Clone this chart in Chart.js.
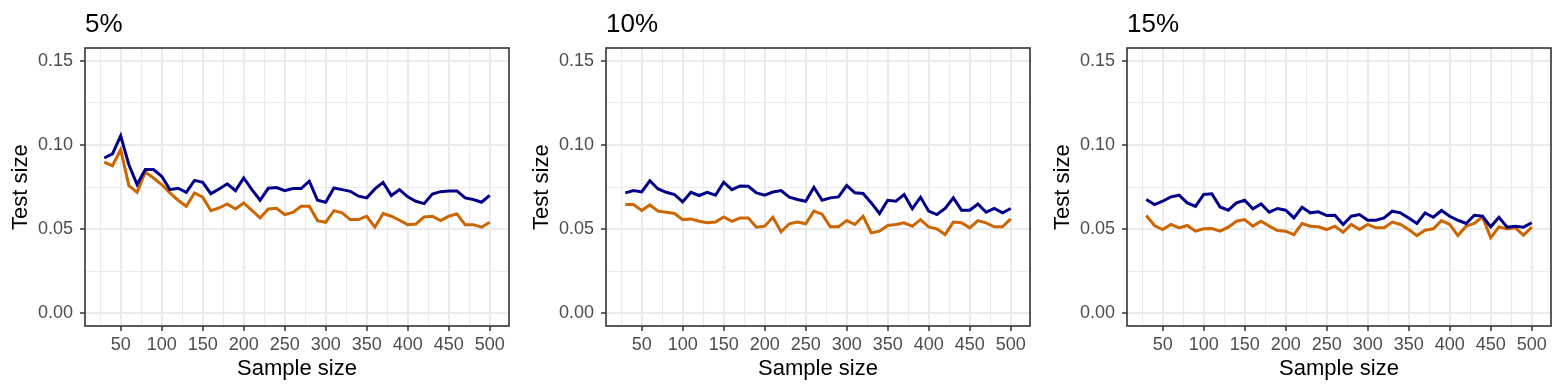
<!DOCTYPE html>
<html>
<head>
<meta charset="utf-8">
<script src="https://cdn.jsdelivr.net/npm/chart.js@4"></script>
<style>
html,body{margin:0;padding:0;background:#fff;}
#wrap{position:relative;width:1563px;height:392px;overflow:hidden;}
.panel{position:absolute;top:0;width:521px;height:392px;}
</style>
</head>
<body>
<div id="wrap">
  <div class="panel" style="left:0px"><canvas id="c0" width="521" height="392"></canvas></div>
  <div class="panel" style="left:521px"><canvas id="c1" width="521" height="392"></canvas></div>
  <div class="panel" style="left:1042px"><canvas id="c2" width="521" height="392"></canvas></div>
</div>
<script>
const sampleSizes = [30,40,50,60,70,80,90,100,110,120,130,140,150,160,170,180,190,200,210,220,230,240,250,260,270,280,290,300,310,320,330,340,350,360,370,380,390,400,410,420,430,440,450,460,470,480,490,500];
const xMajorTicks = [50,100,150,200,250,300,350,400,450,500];
const xMinorTicks = [25,75,125,175,225,275,325,375,425,475];
const yMajorTicks = [0,0.05,0.10,0.15];
const yMinorTicks = [0.025,0.075,0.125];
const panelTitles = ['5%','10%','15%'];

const blue5 = [0.0923,0.0947,0.1055,0.0883,0.0765,0.0854,0.0854,0.0814,0.0735,0.0743,0.0719,0.0790,0.0778,0.0711,0.0739,0.0770,0.0729,0.0804,0.0735,0.0672,0.0743,0.0747,0.0729,0.0741,0.0741,0.0785,0.0672,0.0660,0.0745,0.0735,0.0725,0.0696,0.0686,0.0739,0.0778,0.0700,0.0735,0.0692,0.0666,0.0652,0.0709,0.0723,0.0727,0.0727,0.0686,0.0676,0.0660,0.0701];
const orange5 = [0.0899,0.0877,0.0972,0.0759,0.0719,0.0840,0.0804,0.0765,0.0715,0.0672,0.0636,0.0715,0.0690,0.0610,0.0626,0.0650,0.0620,0.0656,0.0612,0.0567,0.0620,0.0624,0.0587,0.0600,0.0636,0.0636,0.0551,0.0541,0.0610,0.0597,0.0557,0.0557,0.0577,0.0512,0.0593,0.0577,0.0553,0.0527,0.0531,0.0573,0.0577,0.0551,0.0577,0.0591,0.0527,0.0527,0.0512,0.0541];
const blue10 = [0.0716,0.0729,0.0721,0.0788,0.0739,0.0719,0.0706,0.0662,0.0719,0.0700,0.0719,0.0702,0.0779,0.0735,0.0757,0.0755,0.0716,0.0702,0.0721,0.0729,0.0690,0.0676,0.0666,0.0749,0.0672,0.0686,0.0692,0.0759,0.0716,0.0712,0.0656,0.0593,0.0672,0.0666,0.0706,0.0621,0.0690,0.0607,0.0587,0.0623,0.0686,0.0613,0.0613,0.0650,0.0601,0.0623,0.0597,0.0623];
const orange10 = [0.0646,0.0646,0.0611,0.0644,0.0607,0.0601,0.0593,0.0557,0.0561,0.0547,0.0538,0.0542,0.0573,0.0547,0.0567,0.0567,0.0512,0.0518,0.0571,0.0484,0.0532,0.0542,0.0532,0.0607,0.0589,0.0514,0.0514,0.0551,0.0528,0.0577,0.0478,0.0488,0.0522,0.0528,0.0538,0.0518,0.0557,0.0514,0.0502,0.0468,0.0542,0.0538,0.0508,0.0551,0.0538,0.0514,0.0514,0.0561];
const blue15 = [0.0676,0.0646,0.0666,0.0692,0.0702,0.0656,0.0636,0.0706,0.0710,0.0632,0.0613,0.0656,0.0672,0.0621,0.0650,0.0601,0.0623,0.0613,0.0567,0.0630,0.0597,0.0603,0.0581,0.0583,0.0528,0.0577,0.0587,0.0553,0.0553,0.0567,0.0607,0.0597,0.0567,0.0534,0.0597,0.0571,0.0611,0.0577,0.0553,0.0534,0.0583,0.0577,0.0514,0.0571,0.0512,0.0518,0.0512,0.0538];
const orange15 = [0.0581,0.0522,0.0498,0.0528,0.0508,0.0522,0.0488,0.0502,0.0504,0.0488,0.0512,0.0547,0.0557,0.0518,0.0547,0.0518,0.0492,0.0488,0.0468,0.0534,0.0518,0.0514,0.0498,0.0518,0.0482,0.0528,0.0498,0.0528,0.0508,0.0508,0.0542,0.0528,0.0498,0.0462,0.0494,0.0502,0.0551,0.0528,0.0462,0.0518,0.0534,0.0573,0.0449,0.0514,0.0502,0.0508,0.0464,0.0512];

const panelSeries = [[blue5, orange5],[blue10, orange10],[blue15, orange15]];

const BLUE = '#00008B';
const ORANGE = '#CD6600';
const FONT = "'Liberation Sans', Arial, Helvetica, sans-serif";

function makeTicks(major, minor) {
  return major.map(v => ({value: v, isMajor: true}))
    .concat(minor.map(v => ({value: v, isMajor: false})))
    .sort((a, b) => a.value - b.value);
}
function isMajorCtx(ctx) { return ctx && ctx.tick && ctx.tick.isMajor; }

const borderPlugin = {
  id: 'panelBorder',
  afterDraw(chart) {
    const a = chart.chartArea, c = chart.ctx;
    c.save();
    c.strokeStyle = '#333333';
    c.lineWidth = 1.6;
    c.strokeRect(Math.round(a.left), Math.round(a.top), Math.round(a.right - a.left), Math.round(a.bottom - a.top));
    c.restore();
  }
};

function gridOpts() {
  return {
    color: '#EBEBEB',
    lineWidth: ctx => isMajorCtx(ctx) ? 2 : 1.1,
    tickColor: ctx => isMajorCtx(ctx) ? '#333333' : 'rgba(0,0,0,0)',
    tickLength: 5,
    tickWidth: 1.5,
    drawTicks: true
  };
}

panelTitles.forEach((title, i) => {
  const [b, o] = panelSeries[i];
  new Chart(document.getElementById('c' + i), {
    type: 'line',
    data: {
      datasets: [
        {data: sampleSizes.map((x, k) => ({x: x, y: b[k]})), borderColor: BLUE, borderWidth: 3, pointRadius: 0, tension: 0, fill: false},
        {data: sampleSizes.map((x, k) => ({x: x, y: o[k]})), borderColor: ORANGE, borderWidth: 3, pointRadius: 0, tension: 0, fill: false}
      ]
    },
    options: {
      responsive: false,
      animation: false,
      events: [],
      layout: {padding: {left: 0, right: 12, top: 0, bottom: 0}},
      plugins: {
        legend: {display: false},
        tooltip: {enabled: false},
        title: {
          display: true, text: title, align: 'start', fullSize: false,
          color: '#000000', font: {family: FONT, size: 26, weight: 'normal'},
          padding: {top: 9, bottom: 8}
        }
      },
      scales: {
        x: {
          type: 'linear', min: 6.5, max: 523.5,
          afterBuildTicks: s => { s.ticks = makeTicks(xMajorTicks, xMinorTicks); },
          afterFit: s => { s.height = 66; },
          ticks: {
            autoSkip: false, maxRotation: 0, minRotation: 0, padding: 3,
            color: '#4D4D4D', font: {family: FONT, size: 18},
            callback: (v, idx, ticks) => ticks[idx].isMajor ? String(v) : ''
          },
          grid: gridOpts(),
          border: {display: false},
          title: {display: true, text: 'Sample size', color: '#000000', font: {family: FONT, size: 22}, padding: {top: 0, bottom: 10}}
        },
        y: {
          type: 'linear', min: -0.0075, max: 0.1575,
          afterBuildTicks: s => { s.ticks = makeTicks(yMajorTicks, yMinorTicks); },
          afterFit: s => { s.width = 85; },
          ticks: {
            autoSkip: false, padding: 7,
            color: '#4D4D4D', font: {family: FONT, size: 18},
            callback: (v, idx, ticks) => ticks[idx].isMajor ? Number(v).toFixed(2) : ''
          },
          grid: gridOpts(),
          border: {display: false},
          title: {display: true, text: 'Test size', color: '#000000', font: {family: FONT, size: 22}, padding: {top: 8, bottom: 0}}
        }
      }
    },
    plugins: [borderPlugin]
  });
});
</script>
</body>
</html>
